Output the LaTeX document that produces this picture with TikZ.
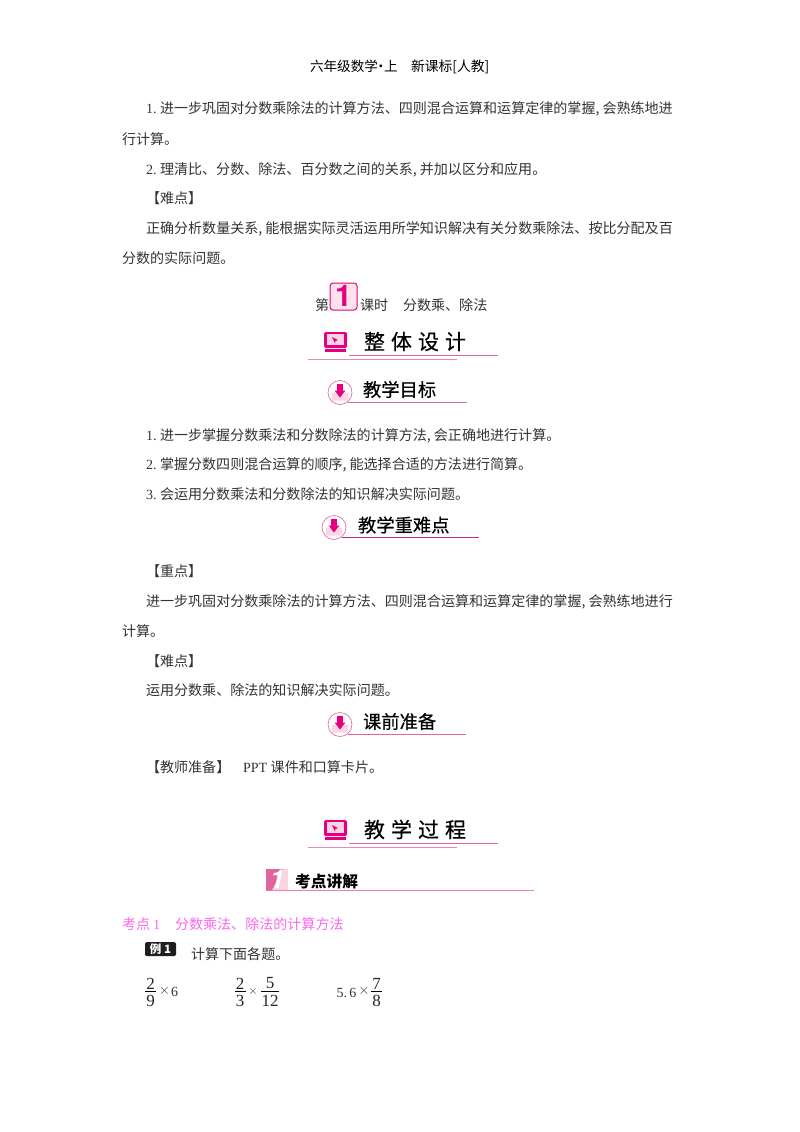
\documentclass[tikz,border=0pt]{standalone}
\usepackage{fontspec}
\newfontfamily\cjk{Noto Sans CJK SC}
\newfontfamily\cjkhead[FakeBold=0.4]{Noto Sans CJK SC}
\newfontfamily\lat{Liberation Serif}
\newfontfamily\latsans{TeX Gyre Heros}
\definecolor{bodyc}{HTML}{333333}
\definecolor{rosec}{HTML}{E0629F}
\definecolor{darkrose}{HTML}{C0288C}
\definecolor{magc}{HTML}{E6007E}
\definecolor{pinkfill}{HTML}{FBD5E3}
\definecolor{kaoc}{HTML}{FB68EE}
\newcommand{\dg}[1]{\makebox[14pt][l]{\lat #1}}
\newcommand{\cm}{\makebox[7pt][l]{,}}
\tikzset{
 x=1pt,y=-1pt,
 bodytext/.style={anchor=base west,inner sep=0,outer sep=0,text=bodyc,font=\cjk\fontsize{14.05}{16}\selectfont},
 headtext/.style={anchor=base west,inner sep=0,outer sep=0,text=black,font=\cjkhead\fontsize{18.3}{22}\selectfont},
 bigtext/.style={anchor=base west,inner sep=0,outer sep=0,text=black,font=\cjkhead\fontsize{21}{26}\selectfont},
 numtext/.style={inner sep=0,outer sep=0,text=black!85,font=\lat\fontsize{17}{20}\selectfont},
 smalltext/.style={inner sep=0,outer sep=0,text=bodyc,font=\lat\fontsize{14}{16}\selectfont},
 timestext/.style={inner sep=0,outer sep=0,text=bodyc,font=\fontsize{15}{18}\selectfont},
 rule/.style={draw=rosec,line width=0.9pt},
}
\newcommand{\monitoricon}[4]{% id, x, y(top), text
 \fill[magc,rounded corners=1.5pt] (#2,#3) rectangle ++(23,16);
 \fill[pinkfill] (#2+3,#3+2) rectangle ++(17,11);
 \fill[magc] (#2+8,#3+5) -- (#2+14,#3+8) -- (#2+11.5,#3+9) -- (#2+11,#3+11.5) -- cycle;
 \fill[magc] (#2+1,#3+17) rectangle ++(21,3);
 \coordinate (#1a) at (#2+25,#3+23);
 \coordinate (#1b) at (#2+174,#3+23);
 \coordinate (#1c) at (#2-16,#3+27);
 \coordinate (#1d) at (#2+133,#3+27);
 \draw[rule] (#1a) -- (#1b);
 \draw[rule,draw=rosec!75] (#1c) -- (#1d);
 \node[bigtext] (#1t) at (#2+40,#3+17.5) {#4};
}
\newcommand{\downicon}[5]{% id, cx, cy, line end, line colour
 \draw[rosec,line width=0.6pt,fill=white] (#2,#3) circle (12);
 \fill[pinkfill] (#2-8,#3) -- (#2-5,#3) -- (#2,#3+5) -- (#2+5,#3) -- (#2+8,#3) -- (#2+8,#3+8) -- (#2-8,#3+8) -- cycle;
 \fill[magc] (#2-3,#3-9) rectangle (#2+3,#3-2);
 \fill[magc] (#2-5.5,#3-2) -- (#2+5.5,#3-2) -- (#2,#3+5) -- cycle;
 \coordinate (#1a) at (#2+8,#3+9.5);
 \coordinate (#1b) at (#4,#3+9.5);
 \draw[rule,draw=#5] (#1a) -- (#1b);
}
\newcommand{\fracw}{5.5}
\newcommand{\fracnode}[4]{% id, cx, num, den
 \node[numtext] (#1n) at (#2,983.5) {#3};
 \node[numtext] (#1d) at (#2,1000.5) {#4};
 \coordinate (#1l) at (#2-\fracw,991);
 \coordinate (#1r) at (#2+\fracw,991);
 \draw[black,line width=0.6pt] (#1l) -- (#1r);
}
\begin{document}
\begin{tikzpicture}
\useasboundingbox (0,0) rectangle (800,1132);
\fill[white] (0,0) rectangle (800,1132);

\node[bodytext,text=black,font=\cjk\fontsize{13.6}{16}\selectfont] (hd1) at (310,71) {六年级数学\makebox[6pt][c]{·}上};
\node[bodytext,text=black,font=\cjk\fontsize{13.8}{16}\selectfont] (hd2) at (411,71) {新课标[人教]};

\node[bodytext] (l1) at (146,113) {\dg{1.}进一步巩固对分数乘除法的计算方法、四则混合运算和运算定律的掌握\cm 会熟练地进};
\node[bodytext] (l2) at (122,144) {行计算。};
\node[bodytext] (l3) at (146,174) {\dg{2.}理清比、分数、除法、百分数之间的关系\cm 并加以区分和应用。};
\node[bodytext] (l4) at (146,203) {【难点】};
\node[bodytext] (l5) at (146,233) {正确分析数量关系\cm 能根据实际灵活运用所学知识解决有关分数乘除法、按比分配及百};
\node[bodytext] (l6) at (122,263) {分数的实际问题。};

\node[bodytext] (di) at (315,310) {第};
\draw[magc,line width=1pt,fill=pinkfill!70,rounded corners=3pt] (330,283) rectangle (357,310);
\node[inner sep=0,text=magc,font=\latsans\bfseries\fontsize{30}{30}\selectfont] (num1) at (343.5,296) {1};
\node[bodytext] (ks) at (360,310) {课时};
\node[bodytext] (fs) at (403,310) {分数乘、除法};

\monitoricon{zt}{324}{332}{整\hspace{6pt}体\hspace{6pt}设\hspace{6pt}计}

\downicon{mb}{340}{392.5}{467}{rosec}
\node[headtext] (mbt) at (363,396.5) {教学目标};

\node[bodytext] (m1) at (146,440) {\dg{1.}进一步掌握分数乘法和分数除法的计算方法\cm 会正确地进行计算。};
\node[bodytext] (m2) at (146,469) {\dg{2.}掌握分数四则混合运算的顺序\cm 能选择合适的方法进行简算。};
\node[bodytext] (m3) at (146,499) {\dg{3.}会运用分数乘法和分数除法的知识解决实际问题。};

\downicon{zd}{334}{527.5}{479}{darkrose}
\node[headtext] (zdt) at (358,532) {教学重难点};

\node[bodytext] (z1) at (146,576) {【重点】};
\node[bodytext] (z2) at (146,606) {进一步巩固对分数乘除法的计算方法、四则混合运算和运算定律的掌握\cm 会熟练地进行};
\node[bodytext] (z3) at (122,636) {计算。};
\node[bodytext] (z4) at (146,666) {【难点】};
\node[bodytext] (z5) at (146,695) {运用分数乘、除法的知识解决实际问题。};

\downicon{kq}{340}{724.5}{466}{rosec}
\node[headtext] (kqt) at (363,728.5) {课前准备};

\node[bodytext] (j1) at (146,772) {【教师准备】};
\node[bodytext] (j2) at (243,772) {{\lat PPT }课件和口算卡片。};

\monitoricon{gc}{324}{820}{教\hspace{6pt}学\hspace{6pt}过\hspace{6pt}程}

\fill[pinkfill] (266,869) rectangle (288,890);
\fill[rosec] (266,869) -- (283,869) -- (272,890) -- (266,890) -- cycle;
\node[inner sep=0,text=white,font=\latsans\bfseries\itshape\fontsize{26}{26}\selectfont] (n1) at (277,879.5) {1};
\coordinate (kda) at (266,890.5);
\coordinate (kdb) at (534,890.5);
\draw[rule,draw=rosec!80] (kda) -- (kdb);
\node[anchor=base west,inner sep=0,text=black,font=\cjk\bfseries\fontsize{15.7}{18}\selectfont] (kdt) at (295,887) {考点讲解};

\node[bodytext,text=kaoc] (kd1) at (122,929) {考点 {\lat 1}};
\node[bodytext,text=kaoc] (kd2) at (175,929) {分数乘法、除法的计算方法};

\fill[black!88,rounded corners=1.5pt] (145,942) rectangle (176,956);
\node[inner sep=0,text=white,font=\cjk\bfseries\fontsize{11.5}{12}\selectfont] (ex) at (160.5,948.8) {例 1};
\node[bodytext] (ext) at (191,959) {计算下面各题。};

\fracnode{fa}{150.5}{2}{9}
\node[timestext] (ta) at (164.5,991) {$\times$};
\node[smalltext] (sa) at (174.5,992) {6};
\fracnode{fb}{240}{2}{3}
\node[timestext,font=\fontsize{12.5}{16}\selectfont] (tb) at (253,991) {$\times$};
\renewcommand{\fracw}{9}
\fracnode{fc}{270}{5}{12}
\renewcommand{\fracw}{5.5}
\node[smalltext,anchor=base west] (sb) at (336.5,997) {5.\,6};
\node[timestext] (tc) at (364,991) {$\times$};
\fracnode{fd}{376.5}{7}{8}
\end{tikzpicture}
\end{document}
